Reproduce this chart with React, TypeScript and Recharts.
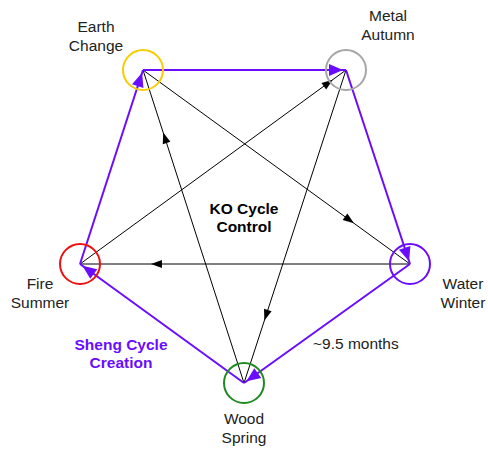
import React from "react";
import { ScatterChart, Scatter, XAxis, YAxis, ReferenceLine } from "recharts";

// nodes of the five elements (pixel-like coordinates, y grows downward)
const elements = ["Earth", "Metal", "Water", "Wood", "Fire"];
const seasons = ["Change", "Autumn", "Winter", "Spring", "Summer"];
const posX = [143, 346, 410, 244, 80];
const posY = [70, 70, 264, 383, 264];

// Sheng (creation) cycle edges: from -> to
const shengFrom = [0, 1, 2, 3, 4];
const shengTo = [1, 2, 3, 4, 0];

// KO (control) cycle edges and where the arrow sits along each edge
const koFrom = [0, 2, 4, 1, 3];
const koTo = [2, 4, 1, 3, 0];
const koArrowAt = [0.79, 0.785, 0.95, 0.8, 0.8];

// free text
const notes = ["KO Cycle", "Control", "Sheng Cycle", "Creation", "~9.5 months"];
const noteX = [244, 244, 121, 121, 313];
const noteY = [214, 232, 350, 368, 349];

// styles
const ringColors = ["#f5cd00", "#a6a6a6", "#6a0dff", "#1f8a1f", "#ee1111"];
const labelDx = [-47, 42, 53, 0, -40];
const labelDy = [-38, -49, 25, 41, 25];
const noteWeight = ["bold", "bold", "bold", "bold", "normal"];
const noteColor = ["#000", "#000", "#6a0dff", "#6a0dff", "#222"];
const noteAnchor = ["middle", "middle", "middle", "middle", "start"];
const SHENG = "#6a0dff";
const FONT = "'Liberation Sans', Arial, sans-serif";
const FS = 15.5;

const nodeData = elements.map((name, i) => ({ x: posX[i], y: posY[i], name, season: seasons[i], i }));
const noteData = notes.map((text, i) => ({ x: noteX[i], y: noteY[i], text, i }));

function head(x1: number, y1: number, x2: number, y2: number, t: number, len: number, half: number) {
  const dx = x2 - x1;
  const dy = y2 - y1;
  const L = Math.hypot(dx, dy);
  const ux = dx / L;
  const uy = dy / L;
  const tx = x1 + dx * t;
  const ty = y1 + dy * t;
  const bx = tx - ux * len;
  const by = ty - uy * len;
  return `${tx},${ty} ${bx - uy * half},${by + ux * half} ${bx + uy * half},${by - ux * half}`;
}

function Edge(props: any) {
  const { x1, y1, x2, y2, color, width, at, len, half } = props;
  if ([x1, y1, x2, y2].some((v) => typeof v !== "number" || isNaN(v))) return null;
  const L = Math.hypot(x2 - x1, y2 - y1);
  const t = at === "end" ? 1 - 3 / L : at;
  return (
    <g>
      <line x1={x1} y1={y1} x2={x2} y2={y2} stroke={color} strokeWidth={width} />
      <polygon points={head(x1, y1, x2, y2, t, len, half)} fill={color} />
    </g>
  );
}

function Node(props: any) {
  const { cx, cy, payload } = props;
  const i = payload.i;
  return (
    <g>
      <circle cx={cx} cy={cy} r={20} fill="none" stroke={ringColors[i]} strokeWidth={2} />
      <text x={cx + labelDx[i]} y={cy + labelDy[i]} textAnchor="middle" fontSize={FS} fontFamily={FONT} fill="#222">
        {payload.name}
      </text>
      <text x={cx + labelDx[i]} y={cy + labelDy[i] + 19} textAnchor="middle" fontSize={FS} fontFamily={FONT} fill="#222">
        {payload.season}
      </text>
    </g>
  );
}

function Note(props: any) {
  const { cx, cy, payload } = props;
  const i = payload.i;
  return (
    <text x={cx} y={cy} textAnchor={noteAnchor[i]} fontSize={FS} fontWeight={noteWeight[i]} fontFamily={FONT} fill={noteColor[i]}>
      {payload.text}
    </text>
  );
}

export default function App() {
  return (
    <div style={{ position: "absolute", left: 0, top: 0, background: "#fff" }}>
      <ScatterChart width={488} height={449} margin={{ top: 0, right: 0, bottom: 0, left: 0 }}>
        <XAxis type="number" dataKey="x" domain={[0, 488]} hide />
        <YAxis type="number" dataKey="y" domain={[0, 449]} reversed hide />
        {koFrom.map((f, k) => (
          <ReferenceLine
            key={`ko${k}`}
            ifOverflow="visible"
            segment={[{ x: posX[f], y: posY[f] }, { x: posX[koTo[k]], y: posY[koTo[k]] }]}
            shape={(p: any) => <Edge {...p} color="#000" width={1} at={koArrowAt[k]} len={11} half={4} />}
          />
        ))}
        {shengFrom.map((f, k) => (
          <ReferenceLine
            key={`sh${k}`}
            ifOverflow="visible"
            segment={[{ x: posX[f], y: posY[f] }, { x: posX[shengTo[k]], y: posY[shengTo[k]] }]}
            shape={(p: any) => <Edge {...p} color={SHENG} width={2} at="end" len={14} half={6} />}
          />
        ))}
        <Scatter data={nodeData} shape={(p: any) => <Node {...p} />} isAnimationActive={false} />
        <Scatter data={noteData} shape={(p: any) => <Note {...p} />} isAnimationActive={false} />
      </ScatterChart>
    </div>
  );
}
